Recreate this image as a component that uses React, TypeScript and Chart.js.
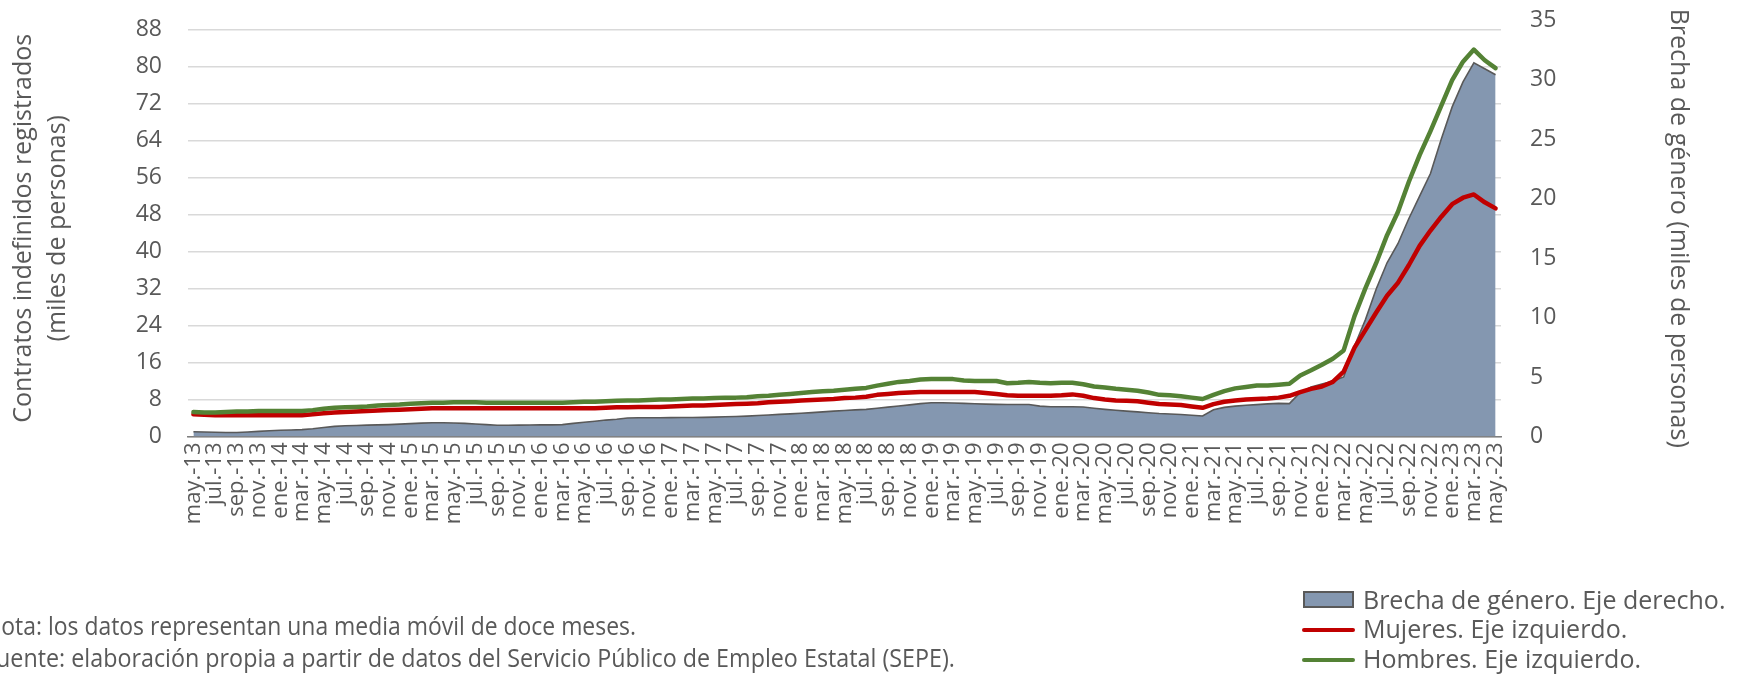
import React, { useEffect, useRef } from 'react';
import { Chart, registerables } from 'chart.js';

Chart.register(...registerables);

// ---- Data (monthly, 12-month moving average) ----
const MONTHS = ['ene.', 'feb.', 'mar.', 'abr.', 'may.', 'jun.', 'jul.', 'ago.', 'sep.', 'oct.', 'nov.', 'dic.'];
const START_YEAR = 2013;
const START_MONTH = 4; // may.
const END_YEAR = 2023;
const END_MONTH = 4; // may.

const categories: string[] = [];
for (let y = START_YEAR; y <= END_YEAR; y++) {
  for (let m = 0; m < 12; m++) {
    if (y === START_YEAR && m < START_MONTH) continue;
    if (y === END_YEAR && m > END_MONTH) continue;
    categories.push(`${MONTHS[m]}-${String(y).slice(2)}`);
  }
}

// Hombres (left axis, miles)
const hombres = [
  5.3, 5.2, 5.2, 5.3, 5.4, 5.4, 5.5, 5.5, 5.5, 5.5,
  5.5, 5.7, 6.0, 6.2, 6.3, 6.4, 6.5, 6.7, 6.8, 6.9,
  7.1, 7.2, 7.3, 7.3, 7.4, 7.4, 7.4, 7.3, 7.3, 7.3,
  7.3, 7.3, 7.3, 7.3, 7.3, 7.4, 7.5, 7.5, 7.6, 7.7,
  7.8, 7.8, 7.9, 8.0, 8.0, 8.1, 8.2, 8.2, 8.3, 8.4,
  8.4, 8.5, 8.7, 8.8, 9.0, 9.2, 9.4, 9.6, 9.8, 9.9,
  10.1, 10.3, 10.5, 11.0, 11.4, 11.8, 12.0, 12.3, 12.4, 12.4,
  12.4, 12.1, 12.0, 12.0, 12.0, 11.5, 11.6, 11.8, 11.6, 11.5,
  11.6, 11.6, 11.3, 10.8, 10.6, 10.3, 10.1, 9.9, 9.5, 9.0,
  8.9, 8.7, 8.4, 8.1, 9.0, 9.8, 10.4, 10.7, 11.0, 11.0,
  11.2, 11.4, 13.2, 14.3, 15.5, 16.8, 18.6, 26.0, 32.0, 37.5,
  43.5, 48.5, 55.0, 60.8, 66.0, 71.5, 77.0, 81.0, 83.6, 81.3,
  79.6,
];

// Mujeres (left axis, miles)
const mujeres = [
  4.8, 4.7, 4.6, 4.6, 4.6, 4.6, 4.6, 4.6, 4.6, 4.6,
  4.6, 4.8, 5.0, 5.2, 5.3, 5.4, 5.5, 5.6, 5.7, 5.8,
  5.9, 6.0, 6.1, 6.1, 6.1, 6.1, 6.1, 6.1, 6.1, 6.1,
  6.1, 6.1, 6.1, 6.1, 6.1, 6.1, 6.1, 6.1, 6.2, 6.3,
  6.3, 6.4, 6.4, 6.4, 6.5, 6.6, 6.7, 6.7, 6.8, 6.9,
  7.0, 7.1, 7.2, 7.4, 7.5, 7.6, 7.8, 7.9, 8.0, 8.1,
  8.3, 8.4, 8.6, 9.0, 9.2, 9.4, 9.5, 9.6, 9.6, 9.6,
  9.6, 9.6, 9.6, 9.4, 9.2, 8.9, 8.8, 8.8, 8.8, 8.8,
  8.9, 9.1, 8.8, 8.3, 8.0, 7.8, 7.7, 7.6, 7.3, 7.0,
  6.9, 6.8, 6.5, 6.2, 7.0, 7.5, 7.8, 8.0, 8.1, 8.2,
  8.4, 8.8, 9.6, 10.3, 10.8, 11.8, 14.0, 19.2, 23.0, 26.8,
  30.4, 33.2, 37.0, 41.2, 44.5, 47.5, 50.2, 51.6, 52.3, 50.6,
  49.3,
];

// Brecha de género (right axis, miles)
const brecha = [
  0.40, 0.38, 0.36, 0.34, 0.33, 0.38, 0.43, 0.48, 0.52, 0.55,
  0.58, 0.65, 0.75, 0.85, 0.90, 0.93, 0.96, 0.98, 1.00, 1.04,
  1.08, 1.12, 1.15, 1.15, 1.13, 1.10, 1.05, 1.00, 0.95, 0.95,
  0.96, 0.97, 0.98, 0.98, 1.00, 1.10, 1.20, 1.28, 1.38, 1.45,
  1.55, 1.58, 1.58, 1.58, 1.59, 1.60, 1.60, 1.61, 1.63, 1.66,
  1.68, 1.71, 1.76, 1.81, 1.86, 1.90, 1.95, 2.01, 2.07, 2.13,
  2.19, 2.24, 2.28, 2.37, 2.47, 2.56, 2.66, 2.76, 2.83, 2.83,
  2.81, 2.78, 2.75, 2.72, 2.70, 2.69, 2.69, 2.69, 2.55, 2.50,
  2.50, 2.50, 2.48, 2.38, 2.28, 2.20, 2.13, 2.07, 2.00, 1.93,
  1.89, 1.85, 1.78, 1.72, 2.25, 2.45, 2.55, 2.62, 2.68, 2.74,
  2.78, 2.76, 3.70, 4.15, 4.40, 4.65, 5.00, 7.60, 9.80, 12.40,
  14.60, 16.20, 18.30, 20.20, 22.10, 25.00, 27.70, 29.80, 31.40, 30.90,
  30.40,
];

const LEFT_MAX = 90;
const LEFT_STEP = 8;
const LEFT_LAST_TICK = 88;
const RIGHT_MAX = 35;
const RIGHT_STEP = 5;

const LEFT_TITLE = ['Contratos indefinidos registrados', '(miles de personas)'];
const RIGHT_TITLE = 'Brecha de género (miles de personas)';
const LEGEND_LABELS = ['Brecha de género. Eje derecho.', 'Mujeres. Eje izquierdo.', 'Hombres. Eje izquierdo.'];
const NOTE_LINES = [
  'Nota: los datos representan una media móvil de doce meses.',
  'Fuente: elaboración propia a partir de datos del Servicio Público de Empleo Estatal (SEPE).',
];

// ---- Styles ----
const FONT = "'Open Sans', 'DejaVu Sans', sans-serif";
const TEXT = '#595959';
const GREEN = '#548235';
const RED = '#C00000';
const AREA_FILL = '#8497B0';
const AREA_LINE = '#595959';

const W = 1737;
const H = 678;
const CANVAS_H = 560;
const PLOT_TOP = 20;
const PLOT_LEFT = 188;
const PLOT_RIGHT = 1501;
const PLOT_BOTTOM = 436.5;

export default function App() {
  const ref = useRef<HTMLCanvasElement | null>(null);

  useEffect(() => {
    if (!ref.current) return;
    const chart = new Chart(ref.current, {
      type: 'line',
      data: {
        labels: categories,
        datasets: [
          {
            label: LEGEND_LABELS[2],
            data: hombres,
            yAxisID: 'y',
            borderColor: GREEN,
            borderWidth: 4.5,
            pointRadius: 0,
            fill: false,
            tension: 0,
            borderJoinStyle: 'round',
            borderCapStyle: 'round',
            order: 1,
          },
          {
            label: LEGEND_LABELS[1],
            data: mujeres,
            yAxisID: 'y',
            borderColor: RED,
            borderWidth: 4.5,
            pointRadius: 0,
            fill: false,
            tension: 0,
            borderJoinStyle: 'round',
            borderCapStyle: 'round',
            order: 2,
          },
          {
            label: LEGEND_LABELS[0],
            data: brecha,
            yAxisID: 'y1',
            borderColor: AREA_LINE,
            borderWidth: 1.6,
            backgroundColor: AREA_FILL,
            fill: 'origin',
            pointRadius: 0,
            tension: 0,
            order: 3,
          },
        ],
      },
      options: {
        responsive: false,
        animation: false,
        devicePixelRatio: 1,
        layout: { padding: { top: PLOT_TOP, left: 0, right: 0, bottom: 0 } },
        plugins: { legend: { display: false }, tooltip: { enabled: false } },
        scales: {
          x: {
            type: 'category',
            offset: true,
            z: 1,
            grid: { display: false, drawTicks: false },
            border: { display: true, color: '#7F7F7F', width: 1.5 },
            ticks: {
              autoSkip: false,
              maxRotation: 90,
              minRotation: 90,
              padding: 6,
              color: TEXT,
              font: { family: FONT, size: 22 },
              callback: (_v: any, i: number) => (i % 2 === 0 ? categories[i] : ''),
            },
            afterFit: (s: any) => {
              s.height = CANVAS_H - PLOT_BOTTOM;
              s.paddingLeft = 0;
              s.paddingRight = 0;
            },
          },
          y: {
            position: 'left',
            min: 0,
            max: LEFT_MAX,
            ticks: {
              stepSize: LEFT_STEP,
              includeBounds: false,
              padding: 26,
              color: TEXT,
              font: { family: FONT, size: 23 },
            },
            afterBuildTicks: (s: any) => {
              s.ticks = s.ticks.filter((t: any) => t.value <= LEFT_LAST_TICK);
            },
            grid: { color: '#D9D9D9', lineWidth: 1.4, drawTicks: false },
            border: { display: false },
            title: {
              display: true,
              text: LEFT_TITLE,
              color: TEXT,
              font: { family: FONT, size: 25, lineHeight: 1.36 },
              padding: { top: 7, bottom: 0 },
            },
            afterFit: (s: any) => {
              s.width = PLOT_LEFT;
              s.paddingTop = 0;
              s.paddingBottom = 0;
            },
          },
          y1: {
            position: 'right',
            min: 0,
            max: RIGHT_MAX,
            ticks: {
              stepSize: RIGHT_STEP,
              padding: 29,
              color: TEXT,
              font: { family: FONT, size: 23 },
            },
            grid: { display: false, drawTicks: false },
            border: { display: false },
            title: {
              display: true,
              text: RIGHT_TITLE,
              color: TEXT,
              font: { family: FONT, size: 25, lineHeight: 1.36 },
              padding: { top: 42, bottom: 0 },
            },
            afterFit: (s: any) => {
              s.width = W - PLOT_RIGHT;
              s.paddingTop = 0;
              s.paddingBottom = 0;
            },
          },
        },
      } as any,
    });
    return () => chart.destroy();
  }, []);

  return (
    <div
      style={{
        position: 'fixed',
        left: 0,
        top: 0,
        width: W,
        height: H,
        background: '#fff',
        overflow: 'hidden',
      }}
    >
      <canvas
        ref={ref}
        width={W}
        height={CANVAS_H}
        style={{ position: 'absolute', left: 0, top: 0, width: W, height: CANVAS_H }}
      />
      <svg
        width={W}
        height={H}
        style={{ position: 'absolute', left: 0, top: 0, pointerEvents: 'none' }}
      >
        <text x={-16} y={635} fill={TEXT} fontFamily={FONT} fontSize={25} textLength={652} lengthAdjust="spacingAndGlyphs">
          {NOTE_LINES[0]}
        </text>
        <text x={-16} y={667} fill={TEXT} fontFamily={FONT} fontSize={25} textLength={971} lengthAdjust="spacingAndGlyphs">
          {NOTE_LINES[1]}
        </text>

        <rect x={1304} y={592} width={49} height={15} fill={AREA_FILL} stroke={AREA_LINE} strokeWidth={2} />
        <text x={1363} y={609} fill={TEXT} fontFamily={FONT} fontSize={25}>
          {LEGEND_LABELS[0]}
        </text>
        <line x1={1304} x2={1353} y1={630} y2={630} stroke={RED} strokeWidth={4} strokeLinecap="round" />
        <text x={1363} y={638} fill={TEXT} fontFamily={FONT} fontSize={25}>
          {LEGEND_LABELS[1]}
        </text>
        <line x1={1304} x2={1353} y1={660} y2={660} stroke={GREEN} strokeWidth={4} strokeLinecap="round" />
        <text x={1363} y={668} fill={TEXT} fontFamily={FONT} fontSize={25}>
          {LEGEND_LABELS[2]}
        </text>
      </svg>
    </div>
  );
}
